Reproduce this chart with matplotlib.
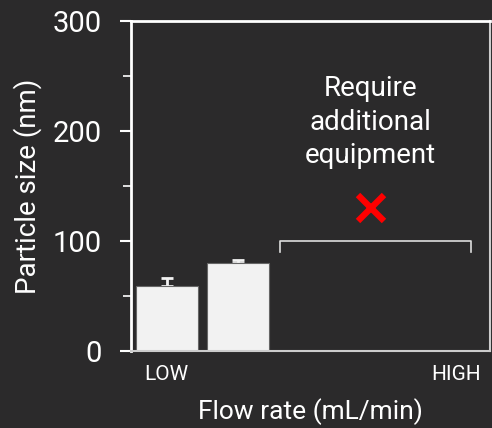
import matplotlib
matplotlib.use("Agg")
import matplotlib.pyplot as plt

# data
categories = ["LOW", "HIGH"]
bar_values = [59.5, 80.3]
bar_errors = [7, 2.4]
bracket_level = 100
note_text = "Require\nadditional\nequipment"

bg = "#2b2a2b"
plt.rcParams["font.family"] = ["Roboto", "DejaVu Sans"]

fig = plt.figure(figsize=(4.92, 4.28), dpi=100, facecolor=bg)
ax = fig.add_axes([0.2663, 0.1799, 0.7296, 0.771], facecolor=bg)

x = list(range(len(bar_values)))
ax.bar(x, bar_values, width=0.87, color="#f2f2f2", edgecolor="#666666", linewidth=0.8,
       zorder=2)
ax.errorbar(x, bar_values, yerr=[[0, 0], bar_errors], fmt="none", ecolor="#f2f2f2",
            elinewidth=2, capsize=4.5, capthick=2, zorder=1)

# bracket over the unreachable high-flow region
bx0, bx1 = 1.58, 4.25
ax.plot([bx0, bx0, bx1, bx1], [bracket_level - 10, bracket_level, bracket_level, bracket_level - 10],
        color="#dddddd", lw=1.2, zorder=3)
ax.plot(2.85, 130, marker="x", color="#ff0000", markersize=19, mew=4.5, zorder=3)
ax.text(2.85, 208, note_text, color="white", ha="center", va="center", fontsize=20,
        linespacing=1.32)

ax.set_xlim(-0.5, 4.52)
ax.set_ylim(0, 300)
ax.set_yticks([0, 100, 200, 300])
ax.set_yticks([50, 150, 250], minor=True)
ax.set_xticks([0, 4.04])
ax.set_xticklabels(categories)
ax.tick_params(axis="y", colors="white", labelsize=21, length=8, width=1.5, pad=13)
ax.tick_params(axis="y", which="minor", colors="white", length=6, width=1.2)
ax.tick_params(axis="x", colors="white", labelsize=15, length=0, pad=10)

for side in ["left", "top"]:
    ax.spines[side].set_color("white")
    ax.spines[side].set_linewidth(2)
for side in ["right", "bottom"]:
    ax.spines[side].set_color("#cccccc")
    ax.spines[side].set_linewidth(1.5)

ax.set_ylabel("Particle size (nm)", color="white", fontsize=20, labelpad=8)
ax.set_xlabel("Flow rate (mL/min)", color="white", fontsize=19, labelpad=10)

fig.savefig("out.png", dpi=100, facecolor=bg)
